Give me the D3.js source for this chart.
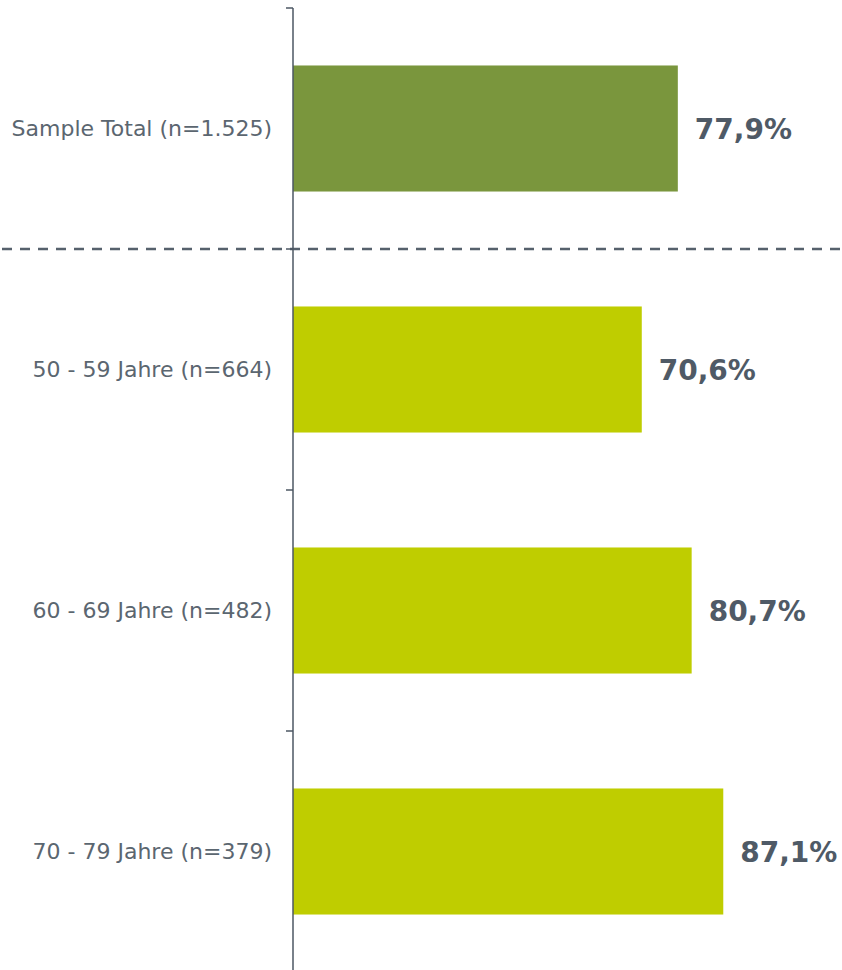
<!DOCTYPE html>
<html lang="de">
<head>
<meta charset="UTF-8">
<title>Sample Total</title>
<style>
  body { margin: 0; background: #fff; }
  svg text { font-family: "DejaVu Sans", Verdana, sans-serif; }
</style>
</head>
<body>
<svg id="chart" width="842" height="970"></svg>
<script src="https://d3js.org/d3.v7.min.js"></script>
<script>
var categories = ["Sample Total (n=1.525)", "50 - 59 Jahre (n=664)", "60 - 69 Jahre (n=482)", "70 - 79 Jahre (n=379)"];
var values = [77.9, 70.6, 80.7, 87.1];
var valueLabels = ["77,9%", "70,6%", "80,7%", "87,1%"];
var barColors = ["#7a963d", "#bfcd00", "#bfcd00", "#bfcd00"];

var svg = d3.select("#chart"),
    width = +svg.attr("width"),
    left = 293,
    textColor = "#4f5a66";

var x = d3.scaleLinear().domain([0, 100]).range([left, left + 494]);
var y = d3.scaleBand().domain(categories).range([8, 972]).paddingInner(0.477).paddingOuter(0.2385);

var data = categories.map(function (c, i) {
  return { cat: c, value: values[i], label: valueLabels[i], color: barColors[i] };
});

svg.selectAll("rect.bar")
  .data(data)
  .enter().append("rect")
  .attr("class", "bar")
  .attr("x", x(0))
  .attr("y", function (d) { return y(d.cat); })
  .attr("width", function (d) { return x(d.value) - x(0); })
  .attr("height", y.bandwidth())
  .attr("fill", function (d) { return d.color; });

// separator between total and age groups
var sepY = y(categories[1]) - y.step() * y.paddingInner() / 2;
svg.append("line")
  .attr("x1", 2).attr("x2", width)
  .attr("y1", sepY).attr("y2", sepY)
  .attr("stroke", "#56616c")
  .attr("stroke-width", 2.5)
  .attr("stroke-dasharray", "10,8");

// category axis with ticks at band boundaries
var bounds = categories.map(function (c) { return y(c) - y.step() * y.paddingInner() / 2; });
bounds.push(bounds[bounds.length - 1] + y.step());
var ax = svg.append("g");
ax.append("line")
  .attr("x1", left).attr("x2", left)
  .attr("y1", bounds[0]).attr("y2", 975)
  .attr("stroke", "#4d5763").attr("stroke-width", 1.5);
ax.selectAll("line.tick")
  .data(bounds)
  .enter().append("line")
  .attr("class", "tick")
  .attr("x1", left - 7).attr("x2", left)
  .attr("y1", function (d) { return d; }).attr("y2", function (d) { return d; })
  .attr("stroke", "#4d5763").attr("stroke-width", 1.5);

svg.selectAll("text.cat")
  .data(data)
  .enter().append("text")
  .attr("class", "cat")
  .attr("x", left - 21)
  .attr("y", function (d) { return y(d.cat) + y.bandwidth() / 2; })
  .attr("dy", "0.35em")
  .attr("text-anchor", "end")
  .attr("font-size", 22)
  .attr("fill", "#5b6670")
  .text(function (d) { return d.cat; });

svg.selectAll("text.val")
  .data(data)
  .enter().append("text")
  .attr("class", "val")
  .attr("x", function (d) { return x(d.value) + 17; })
  .attr("y", function (d) { return y(d.cat) + y.bandwidth() / 2 + 1; })
  .attr("dy", "0.35em")
  .attr("font-size", 28)
  .attr("font-weight", "bold")
  .attr("fill", textColor)
  .text(function (d) { return d.label; });
</script>
</body>
</html>
